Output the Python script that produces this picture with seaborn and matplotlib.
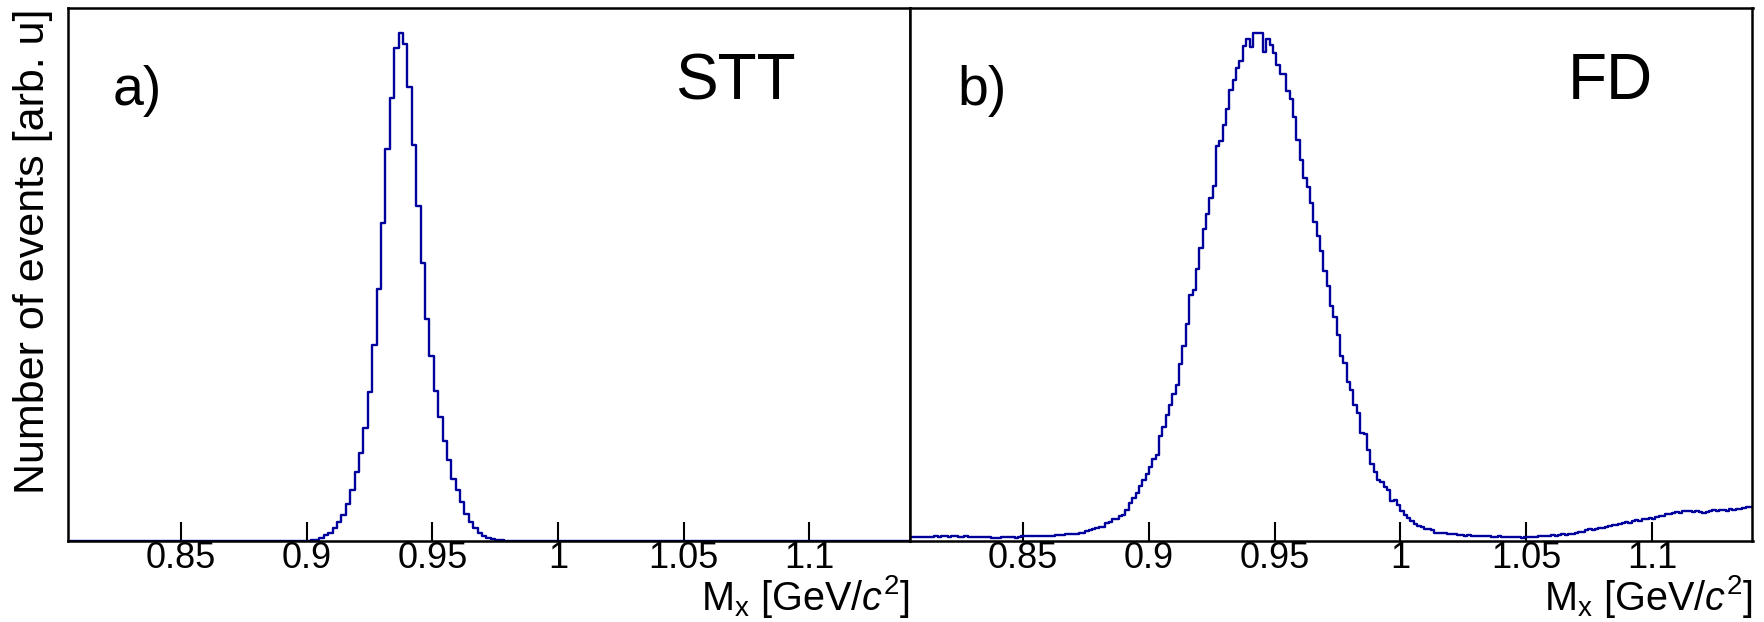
import numpy as np
import pandas as pd
import matplotlib
matplotlib.use("Agg")
import matplotlib.pyplot as plt
import matplotlib.transforms as mtransforms
import seaborn as sns

# ==============================
# Data (normalised so each peak = 100)
# ==============================
# STT: bins of width 0.00175 starting at 0.8 (200 bins), non-zero bins 58..101
stt_lo, stt_width, stt_nbins = 0.8, 0.00175, 200
stt_first_bin = 58
stt_counts = [0.1, 0.2, 0.6, 1.1, 1.6, 2.5, 3.7, 5.1, 7.2, 10.0,
              13.5, 17.4, 22.3, 29.4, 38.7, 49.7, 62.7, 77.3, 87.3, 97.2,
              100.0, 98.0, 89.4, 78.0, 66.0, 54.7, 43.8, 36.5, 29.6, 24.5,
              19.7, 16.0, 12.3, 10.0, 7.6, 5.3, 3.7, 2.6, 1.6, 0.9,
              0.6, 0.3, 0.2, 0.1]

# FD: bins of width 1/750 starting at 0.8, visible bins 3..254
fd_lo, fd_width = 0.8, 1.0 / 750
fd_first_bin = 3
fd_counts = [
    0.8, 0.8, 0.75, 0.8, 0.8, 0.85, 0.85, 0.8, 0.9, 0.85,
    0.9, 0.9, 0.85, 0.9, 0.9, 0.85, 0.85, 0.9, 0.85, 0.8,
    0.8, 0.8, 0.75, 0.8, 0.7, 0.65, 0.65, 0.6, 0.7, 0.7,
    0.75, 0.7, 0.65, 0.75, 0.9, 1.0, 1.05, 0.95, 1.0, 0.95,
    1.0, 1.0, 1.05, 1.0, 1.1, 1.15, 1.2, 1.35, 1.4, 1.45,
    1.45, 1.5, 1.6, 1.9, 2.1, 2.3, 2.6, 2.7, 2.8, 3.6,
    3.8, 4.3, 4.4, 5.0, 5.2, 6.1,
    7.4, 8.5, 9.5, 10.9, 12.1, 13.2, 14.6, 16.2, 17.0, 20.7,
    22.4, 24.8, 26.8, 29.0, 30.8, 34.8, 38.4, 42.7, 48.4, 49.5,
    53.6, 57.7, 61.4, 64.4, 67.6, 69.9, 77.8, 78.8, 82.0, 85.2,
    88.9, 90.9, 93.2, 94.5, 97.5, 98.8, 97.3, 100.0, 100.0, 100.0,
    96.4, 98.8, 97.7, 96.2, 93.8, 92.0, 91.9, 88.7, 87.0,
    83.6, 78.9, 75.0, 71.6, 69.7, 66.5, 62.9, 60.1, 57.2, 53.1,
    50.3, 46.2, 44.1, 40.5, 36.5, 35.0, 31.3, 29.7, 26.8, 25.2,
    21.3, 21.0, 17.9, 15.2, 13.6, 12.0, 11.6, 10.7, 10.1, 7.8,
    8.0, 7.0, 6.0, 5.1, 4.6, 3.9, 3.4, 3.0, 2.8, 2.4,
    2.3, 2.1, 1.6, 1.5,
    1.6, 1.5, 1.45, 1.4, 1.3, 1.15, 1.1, 1.05, 1.1, 1.0,
    0.95, 0.95, 0.9, 0.95, 0.9, 0.85, 0.85, 0.9, 0.8, 0.85,
    0.75, 0.7, 0.75, 0.7, 0.65, 0.75, 0.8, 0.85, 0.8, 0.9,
    0.95, 1.05, 1.0, 1.1, 1.05, 1.2, 1.3, 1.25, 1.4, 1.45,
    1.6, 1.7, 1.8, 2.1, 2.3, 2.2, 2.45, 2.6, 2.5, 2.8,
    3.0, 3.2, 3.1, 3.4, 3.5, 3.7, 3.6, 3.9, 4.1, 4.0,
    4.3, 4.4, 4.5, 4.4, 4.8, 4.9, 5.0, 5.3, 5.4, 5.5,
    5.7, 5.6, 5.9, 6.0, 5.9, 5.8, 5.9, 5.7, 5.6, 5.8,
    6.0, 6.1, 5.9, 6.1, 6.2, 6.0, 6.3, 6.2, 6.4, 6.3,
    6.5, 6.6, 6.7]

xticks = [0.85, 0.9, 0.95, 1.0, 1.05, 1.1]
xtick_labels = ["0.85", "0.9", "0.95", "1", "1.05", "1.1"]
panel_tags = ["a)", "b)"]
panel_names = ["STT", "FD"]

# ==============================
# Build histogram tables
# ==============================
stt_edges = stt_lo + stt_width * np.arange(stt_nbins + 1)
stt_full = np.zeros(stt_nbins)
stt_full[stt_first_bin:stt_first_bin + len(stt_counts)] = stt_counts
df_stt = pd.DataFrame({"mass": 0.5 * (stt_edges[:-1] + stt_edges[1:]),
                       "counts": stt_full})

fd_edges = fd_lo + fd_width * np.arange(fd_first_bin, fd_first_bin + len(fd_counts) + 1)
df_fd = pd.DataFrame({"mass": 0.5 * (fd_edges[:-1] + fd_edges[1:]),
                      "counts": fd_counts})

# ==============================
# Style
# ==============================
sns.set_style("white")
plt.rcParams["font.family"] = ["Liberation Sans", "DejaVu Sans"]
plt.rcParams["mathtext.fontset"] = "custom"
plt.rcParams["mathtext.rm"] = "Liberation Sans"
plt.rcParams["mathtext.it"] = "Liberation Sans:italic"
plt.rcParams["text.color"] = "black"
plt.rcParams["xtick.labelcolor"] = "black"

W, H = 1765, 622
fig = plt.figure(figsize=(W / 100, H / 100), dpi=100)

x_left, x_mid, x_right = 68, 910, 1752.5
y_top, y_bot = 8, 541
ax1 = fig.add_axes([x_left / W, 1 - y_bot / H, (x_mid - x_left) / W, (y_bot - y_top) / H])
ax2 = fig.add_axes([x_mid / W, 1 - y_bot / H, (x_right - x_mid) / W, (y_bot - y_top) / H])

line_color = "#00009c"
sns.histplot(data=df_stt, x="mass", weights="counts", bins=list(stt_edges),
             element="step", fill=False, color=line_color, linewidth=1.7, ax=ax1)
sns.histplot(data=df_fd, x="mass", weights="counts", bins=list(fd_edges),
             element="step", fill=False, color=line_color, linewidth=1.7, ax=ax2)

tag_pos = [(0.0534, 0.818), (0.0558, 0.818)]
name_pos = [(0.721, 0.829), (0.781, 0.829)]
for i, ax in enumerate([ax1, ax2]):
    ax.set_xlim(0.805, 1.14)
    ax.set_ylim(0, 105)
    ax.set_yticks([])
    ax.set_ylabel("")
    ax.set_xlabel("")
    ax.set_xticks(xticks)
    ax.set_xticklabels(xtick_labels)
    ax.tick_params(axis="x", direction="in", length=13.5, width=1.5,
                   pad=0, labelsize=26, color="black", labelcolor="black", bottom=True)
    for sp in ax.spines.values():
        sp.set_visible(True)
        sp.set_color("black")
        sp.set_linewidth(1.8)
        sp.set_zorder(5)
    ax.text(tag_pos[i][0], tag_pos[i][1], panel_tags[i], transform=ax.transAxes,
            fontsize=40, ha="left", va="baseline", color="black")
    ax.text(name_pos[i][0], name_pos[i][1], panel_names[i], transform=ax.transAxes,
            fontsize=46, ha="left", va="baseline", color="black")
    # axis title, right-aligned at the end of the axis (x: axes, y: figure)
    ax.text(1.0, 1 - 610 / H, r"M$_{\mathrm{x}}$ [GeV/$c^{2}$]",
            transform=mtransforms.blended_transform_factory(ax.transAxes, fig.transFigure),
            fontsize=28.5, ha="right", va="baseline", color="black")

fig.text(33 / W, 1 - 8 / H, "Number of events [arb. u]", rotation=90,
         fontsize=31, ha="center", va="top", color="black")

fig.savefig("out.png", dpi=100)
